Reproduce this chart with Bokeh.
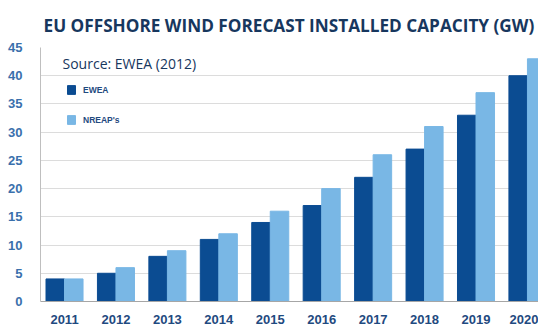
from bokeh.plotting import figure
from bokeh.models import Range1d, FixedTicker, Legend, LegendItem, Label, ColumnDataSource
from bokeh.embed import file_html
from bokeh.resources import INLINE

years = [2011, 2012, 2013, 2014, 2015, 2016, 2017, 2018, 2019, 2020]
ewea = [4, 5, 8, 11, 14, 17, 22, 27, 33, 40]
nreaps = [4, 6, 9, 12, 16, 20, 26, 31, 37, 43]
y_ticks = [0, 5, 10, 15, 20, 25, 30, 35, 40, 45]
title_text = "EU OFFSHORE WIND FORECAST INSTALLED CAPACITY (GW)"

EWEA_COLOR = "#0B4C92"
NREAP_COLOR = "#79B7E5"
BAR_W = 0.36

p = figure(width=538, height=326, output_backend="svg", toolbar_location=None,
           x_range=Range1d(2010.533, 2020.215), y_range=Range1d(0, 45),
           min_border_left=40, min_border_right=0, min_border_top=45, min_border_bottom=21)
p.outline_line_color = None
p.background_fill_color = "white"
p.border_fill_color = "white"

src = ColumnDataSource(dict(
    x1=[y - BAR_W / 2 for y in years],
    x2=[y + BAR_W / 2 for y in years],
    ewea=ewea, nreaps=nreaps))
r1 = p.vbar(x="x1", top="ewea", width=BAR_W, source=src, color=EWEA_COLOR)
r2 = p.vbar(x="x2", top="nreaps", width=BAR_W, source=src, color=NREAP_COLOR)

p.title.text = title_text
p.title.text_font = "Open Sans"
p.title.text_font_style = "bold"
p.title.text_font_size = "17.2px"
p.title.text_color = "#17375E"
p.title.align = "left"
p.title.offset = 3
p.title.standoff = 22

p.xgrid.grid_line_color = None
p.ygrid.grid_line_color = "#DCDCDC"
p.ygrid.ticker = FixedTicker(ticks=y_ticks)

p.yaxis.ticker = FixedTicker(ticks=y_ticks)
p.yaxis.axis_line_color = "#BFBFBF"
p.yaxis.major_tick_line_color = None
p.yaxis.minor_tick_line_color = None
p.yaxis.major_label_standoff = 12
p.yaxis.major_label_text_font = "Liberation Sans"
p.yaxis.major_label_text_font_style = "bold"
p.yaxis.major_label_text_font_size = "13px"
p.yaxis.major_label_text_color = "#3A70AC"

p.xaxis.ticker = FixedTicker(ticks=years)
p.xaxis.axis_line_color = "#A6A6A6"
p.xaxis.major_tick_line_color = None
p.xaxis.minor_tick_line_color = None
p.xaxis.major_label_standoff = 7
p.xaxis.major_label_text_font = "Liberation Sans"
p.xaxis.major_label_text_font_style = "bold"
p.xaxis.major_label_text_font_size = "13px"
p.xaxis.major_label_text_color = "#1F4A80"

legend = Legend(items=[LegendItem(label="EWEA", renderers=[r1]),
                       LegendItem(label="NREAP's", renderers=[r2])],
                location=(26, 176), orientation="vertical",
                glyph_width=10, glyph_height=11, label_height=11, label_width=20,
                spacing=19, padding=0, margin=0, label_standoff=7,
                border_line_color=None, background_fill_alpha=0,
                label_text_font="Liberation Sans", label_text_font_style="bold",
                label_text_font_size="8.5px", label_text_color="#1F4A80")
p.add_layout(legend)

src_label = Label(x=2010.961, y=42.2, text="Source: EWEA (2012)", text_font="Open Sans",
                  text_font_size="14px", text_color="#17375E", text_baseline="middle")
p.add_layout(src_label)

open("out.html", "w").write(file_html(p, INLINE))
